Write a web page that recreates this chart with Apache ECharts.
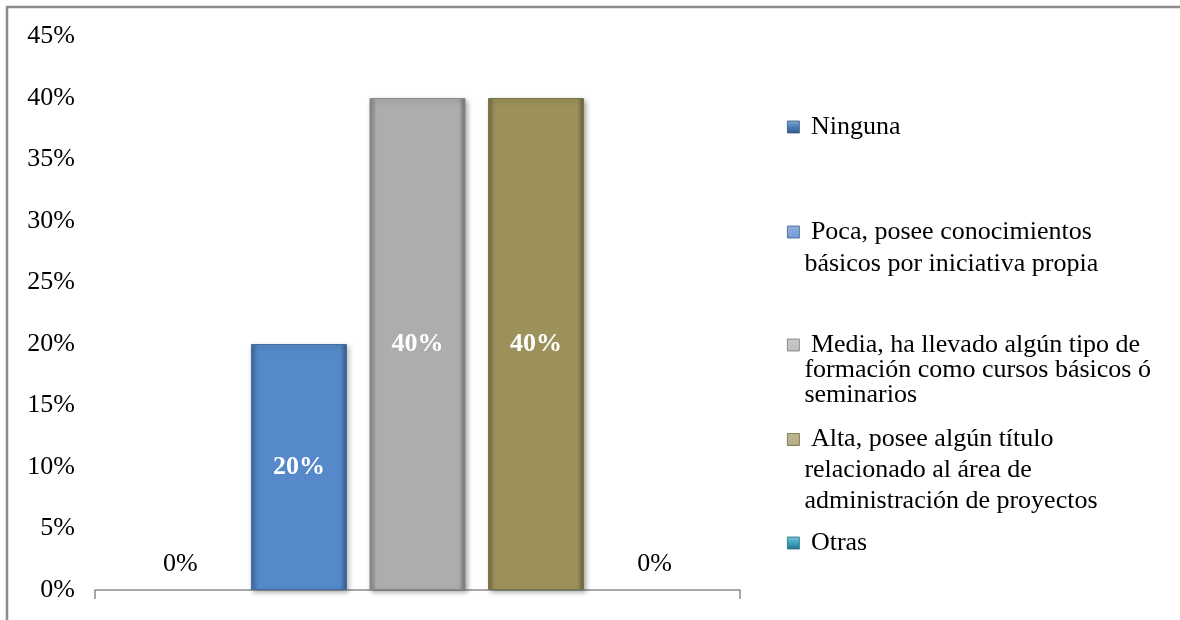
<!DOCTYPE html>
<html>
<head>
<meta charset="utf-8">
<script src="https://cdn.jsdelivr.net/npm/echarts@6/dist/echarts.min.js"></script>
<style>
  html, body { margin: 0; padding: 0; background: #fff; }
  #chart { width: 1180px; height: 620px; }
</style>
</head>
<body>
<div id="chart"></div>
<script>
// Nivel de formación en administración de proyectos (porcentaje de respuestas)
const seriesNames = [
  'Ninguna',
  'Poca, posee conocimientos básicos por iniciativa propia',
  'Media, ha llevado algún tipo de formación como cursos básicos ó seminarios',
  'Alta, posee algún título relacionado al área de administración de proyectos',
  'Otras'
];
const seriesValues = [0, 20, 40, 40, 0];
const legendLines = [
  ['Ninguna'],
  ['Poca, posee conocimientos', 'básicos por iniciativa propia'],
  ['Media, ha llevado algún tipo de', 'formación como cursos básicos ó', 'seminarios'],
  ['Alta, posee algún título', 'relacionado al área de', 'administración de proyectos'],
  ['Otras']
];
const yTicks = { min: 0, max: 45, interval: 5 };

const colors = ['#4A7DBA', '#5589C9', '#ADADAD', '#9C915A', '#3AA3C0'];
const FONT = '"Liberation Serif", "Times New Roman", serif';

function shade(hex, f) {
  const n = parseInt(hex.slice(1), 16);
  const c = [(n >> 16) & 255, (n >> 8) & 255, n & 255].map(v =>
    Math.max(0, Math.min(255, Math.round(f < 0 ? v * (1 + f) : v + (255 - v) * f))));
  return 'rgb(' + c.join(',') + ')';
}
// beveled column fill: darker side edges
function bevel(hex) {
  return new echarts.graphic.LinearGradient(0, 0, 1, 0, [
    { offset: 0, color: shade(hex, -0.25) },
    { offset: 0.07, color: hex },
    { offset: 0.93, color: hex },
    { offset: 1, color: shade(hex, -0.35) }
  ]);
}
// legend swatch fill: light top, darker bottom
function swatch(hex) {
  return new echarts.graphic.LinearGradient(0, 0, 0, 1, [
    { offset: 0, color: shade(hex, 0.35) },
    { offset: 0.5, color: hex },
    { offset: 1, color: shade(hex, -0.3) }
  ]);
}

const series = seriesNames.map((name, i) => {
  const v = seriesValues[i];
  const hasBar = v > 0;
  return {
    name: name,
    type: 'bar',
    barWidth: 96,
    barGap: '23.5%',
    data: [v],
    itemStyle: hasBar ? {
      color: bevel(colors[i]),
      borderColor: shade(colors[i], -0.2),
      borderWidth: 1,
      shadowColor: 'rgba(0,0,0,0.35)',
      shadowBlur: 5,
      shadowOffsetX: 2,
      shadowOffsetY: 2
    } : {
      color: colors[i],
      borderWidth: 0
    },
    label: hasBar ? {
      show: true, position: 'inside', formatter: '{c}%',
      color: '#fff', fontWeight: 'bold', fontSize: 26, fontFamily: FONT
    } : {
      show: true, position: 'top', distance: 13, formatter: '{c}%',
      color: '#000', fontSize: 26, fontFamily: FONT
    }
  };
});

// one legend block per series so each entry sits on its own row of the key
const legendTops = [113, 216, 332, 424, 529];
const legendLineHeights = [28, 32, 25, 31, 28];
const legends = seriesNames.map((name, i) => {
  const lh = legendLineHeights[i];
  const n = legendLines[i].length;
  const boxH = (n - 1) * lh + 12;
  return {
    data: [name],
    left: 787,
    top: legendTops[i],
    orient: 'vertical',
    padding: 0,
    selectedMode: false,
    itemWidth: 12,
    itemHeight: boxH,
    icon: 'path://M0,0H12V12H0Z M0,' + boxH,
    itemStyle: { color: swatch(colors[i]), borderColor: shade(colors[i], -0.3), borderWidth: 0.8 },
    formatter: () => ' ' + legendLines[i].join('\n'),
    textStyle: { fontFamily: FONT, fontSize: 26, lineHeight: lh, color: '#000' }
  };
});

const chart = echarts.init(document.getElementById('chart'), null, { renderer: 'canvas' });
chart.setOption({
  animation: false,
  backgroundColor: '#fff',
  color: colors,
  graphic: [{
    type: 'rect',
    shape: { x: 7, y: 7, width: 1300, height: 800 },
    style: { fill: 'none', stroke: '#8c8c8c', lineWidth: 2.5 },
    silent: true
  }],
  grid: { left: 95, right: 440, top: 36.5, bottom: 30 },
  legend: legends,
  xAxis: {
    type: 'category',
    data: [''],
    axisLine: { lineStyle: { color: '#8c8c8c', width: 1.5 } },
    axisTick: { show: true, length: 9, lineStyle: { color: '#8c8c8c', width: 1.5 } },
    axisLabel: { show: false }
  },
  yAxis: {
    type: 'value',
    min: yTicks.min,
    max: yTicks.max,
    interval: yTicks.interval,
    axisLine: { show: false },
    axisTick: { show: false },
    splitLine: { show: false },
    axisLabel: {
      formatter: '{value}%', margin: 20,
      fontFamily: FONT, fontSize: 26, color: '#000'
    }
  },
  series: series
});
</script>
</body>
</html>
